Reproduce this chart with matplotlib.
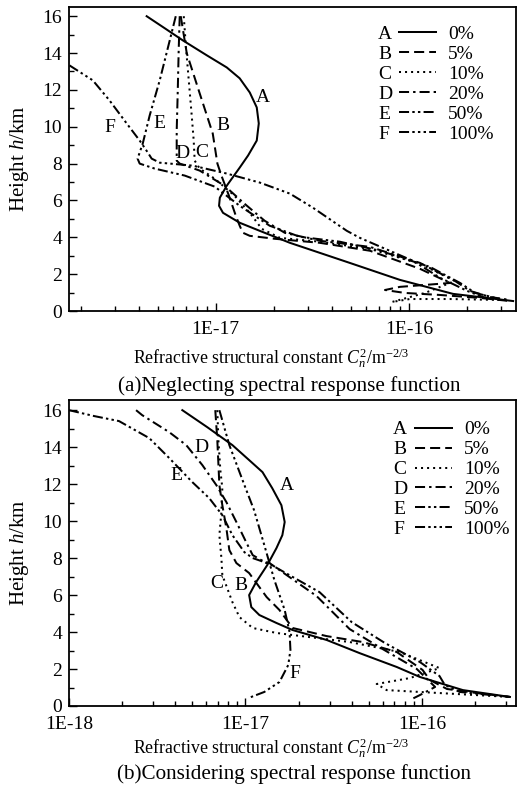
import matplotlib
matplotlib.use('Agg')
import matplotlib.pyplot as plt
from matplotlib.lines import Line2D
from matplotlib.ticker import FixedLocator, NullFormatter, MultipleLocator

plt.rcParams['font.family'] = ['Liberation Serif', 'DejaVu Serif']
plt.rcParams['mathtext.fontset'] = 'custom'
plt.rcParams['mathtext.rm'] = 'Liberation Serif'
plt.rcParams['mathtext.it'] = 'Liberation Serif:italic'

letters = ['A', 'B', 'C', 'D', 'E', 'F']
percents = ['0%', '5%', '10%', '20%', '50%', '100%']

# (a) neglecting spectral response function -- Cn2 [m^-2/3] vs height [km]
top_a_cn2 = [4.39e-18, 5.44e-18, 6.75e-18, 8.98e-18, 1.14e-17, 1.33e-17, 1.50e-17, 1.63e-17, 1.67e-17,
             1.63e-17, 1.47e-17, 1.33e-17, 1.14e-17, 1.05e-17, 1.04e-17, 1.09e-17, 1.33e-17, 1.69e-17,
             2.42e-17, 4.94e-17, 8.97e-17, 1.69e-16, 3.46e-16]
top_a_h = [16.0, 15.35, 14.69, 13.88, 13.22, 12.63, 11.86, 11.05, 10.18, 9.25, 8.44, 7.78, 6.8, 6.15,
           5.71, 5.33, 4.79, 4.35, 3.7, 2.61, 1.69, 0.93, 0.54]
top_b_cn2 = [6.59e-18, 7.08e-18, 8.26e-18, 9.65e-18, 1.02e-17, 1.07e-17, 1.17e-17, 1.27e-17, 1.33e-17,
             1.38e-17, 1.50e-17, 2.02e-17, 3.46e-17, 6.28e-17, 1.14e-16, 1.63e-16, 8.97e-17, 7.51e-17,
             9.53e-17, 1.45e-16, 2.33e-16, 3.33e-16]
top_b_h = [16.0, 13.99, 11.81, 9.63, 8.0, 7.35, 6.26, 5.17, 4.63, 4.25, 4.08, 3.92, 3.7, 3.27, 2.29,
           1.52, 1.31, 1.14, 0.98, 0.87, 0.71, 0.54]
top_c_cn2 = [6.83e-18, 7.0e-18, 7.25e-18, 7.51e-18, 7.69e-18, 7.78e-18, 8.26e-18, 9.88e-18, 1.25e-17,
             1.50e-17, 1.73e-17, 2.15e-17, 3.46e-17, 6.28e-17, 1.14e-16, 1.73e-16, 1.21e-16, 8.17e-17,
             1.01e-16, 1.63e-16, 2.96e-16]
top_c_h = [16.0, 14.42, 12.52, 10.61, 9.25, 8.16, 7.73, 7.18, 6.26, 5.33, 4.46, 3.97, 3.76, 3.37, 2.56,
           1.63, 0.98, 0.49, 0.65, 0.65, 0.6]
top_d_cn2 = [6.51e-18, 6.43e-18, 6.36e-18, 6.28e-18, 6.28e-18, 6.51e-18, 8.26e-18, 1.11e-17, 1.41e-17,
             1.79e-17, 2.28e-17, 3.46e-17, 6.28e-17, 1.14e-16, 1.73e-16, 2.07e-16, 2.63e-16, 3.33e-16]
top_d_h = [16.0, 14.15, 11.97, 9.8, 8.16, 8.0, 7.62, 6.8, 5.82, 4.9, 4.24, 3.81, 3.48, 2.61, 1.63, 1.09,
           0.76, 0.6]
top_e_cn2 = [6.21e-18, 5.78e-18, 5.13e-18, 4.55e-18, 4.19e-18, 3.94e-18, 4.04e-18, 4.83e-18, 6.91e-18,
             9.88e-18, 1.33e-17, 1.90e-17, 2.72e-17, 4.39e-17, 7.08e-17, 1.28e-16, 1.84e-16, 2.20e-16,
             2.96e-16]
top_e_h = [16.0, 14.69, 12.52, 10.61, 9.09, 8.27, 8.0, 7.73, 7.35, 6.75, 5.71, 4.63, 4.03, 3.76, 3.27,
           2.4, 1.52, 0.98, 0.65]
top_f_cn2 = [1.75e-18, 2.31e-18, 2.82e-18, 3.46e-18, 4.04e-18, 4.45e-18, 4.66e-18, 5.13e-18, 7.6e-18,
             1.14e-17, 1.69e-17, 2.42e-17, 3.18e-17, 4.77e-17, 5.57e-17, 1.05e-16, 1.45e-16, 2.0e-16,
             2.48e-16]
top_f_h = [13.33, 12.52, 11.43, 10.18, 9.25, 8.6, 8.27, 8.05, 7.89, 7.46, 6.97, 6.37, 5.61, 4.35, 3.97,
           2.72, 1.8, 1.09, 0.71]
top_label_cn2 = [1.75e-17, 1.09e-17, 8.45e-18, 6.75e-18, 5.13e-18, 2.82e-18]
top_label_h = [11.6, 10.07, 8.6, 8.54, 10.18, 9.96]

# (b) considering spectral response function
bot_a_cn2 = [4.39e-18, 6.08e-18, 8.44e-18, 1.05e-17, 1.25e-17, 1.42e-17, 1.60e-17, 1.67e-17, 1.62e-17,
             1.50e-17, 1.33e-17, 1.15e-17, 1.05e-17, 1.08e-17, 1.20e-17, 1.50e-17, 1.85e-17, 2.89e-17,
             4.44e-17, 7.21e-17, 9.75e-17, 1.71e-16, 3.16e-16]
bot_a_h = [16.0, 15.08, 14.11, 13.3, 12.65, 11.78, 10.86, 9.95, 9.24, 8.54, 7.62, 6.7, 6.0, 5.35, 4.92,
           4.49, 4.11, 3.57, 2.86, 2.11, 1.57, 0.86, 0.49]
bot_b_cn2 = [6.75e-18, 6.93e-18, 7.12e-18, 7.40e-18, 7.80e-18, 8.11e-18, 8.89e-18, 1.05e-17, 1.32e-17,
             1.56e-17, 1.85e-17, 2.89e-17, 4.62e-17, 7.21e-17, 1.01e-16, 1.11e-16, 1.39e-16, 2.05e-16,
             3.16e-16]
bot_b_h = [16.0, 14.38, 11.95, 10.86, 9.62, 8.43, 7.73, 7.19, 5.89, 5.19, 4.22, 3.78, 3.46, 2.92, 1.95,
           1.41, 0.92, 0.7, 0.49]
bot_c_cn2 = [6.93e-18, 7.03e-18, 7.21e-18, 7.40e-18, 7.31e-18, 7.12e-18, 7.31e-18, 7.40e-18, 8.44e-18,
             9.25e-18, 1.10e-17, 1.50e-17, 1.85e-17, 3.90e-17, 7.50e-17, 1.26e-16, 8.55e-17, 5.55e-17,
             6.32e-17, 1.26e-16, 3.16e-16]
bot_c_h = [16.0, 14.38, 12.76, 11.78, 10.49, 9.24, 8.0, 7.08, 5.62, 4.81, 4.22, 3.95, 3.84, 3.46, 2.92,
           2.05, 1.51, 1.19, 0.86, 0.7, 0.49]
bot_d_cn2 = [2.40e-18, 2.60e-18, 3.70e-18, 4.62e-18, 5.70e-18, 6.84e-18, 7.80e-18, 8.89e-18, 1.01e-17,
             1.10e-17, 1.23e-17, 1.37e-17, 2.53e-17, 3.90e-17, 6.0e-17, 9.37e-17, 1.07e-16, 1.19e-16,
             9.75e-17, 8.55e-17]
bot_d_h = [16.0, 15.73, 14.81, 14.11, 13.03, 11.95, 11.03, 9.95, 8.86, 8.16, 7.89, 7.73, 5.95, 4.16,
           3.08, 2.0, 1.46, 1.03, 0.59, 0.32]
bot_e_cn2 = [1.0e-18, 1.39e-18, 1.92e-18, 2.85e-18, 3.70e-18, 5.0e-18, 6.24e-18, 7.40e-18, 8.44e-18,
             9.87e-18, 1.10e-17, 1.23e-17, 1.41e-17, 2.63e-17, 4.0e-17, 6.17e-17, 9.75e-17, 1.26e-16,
             1.35e-16, 1.64e-16, 3.16e-16]
bot_e_h = [16.0, 15.68, 15.41, 14.49, 13.41, 12.11, 11.24, 10.32, 9.24, 8.32, 8.0, 7.84, 7.62, 6.16,
           4.54, 3.41, 2.38, 1.62, 1.14, 0.76, 0.49]
bot_f_cn2 = [7.12e-18, 8.11e-18, 9.87e-18, 1.12e-17, 1.28e-17, 1.46e-17, 1.67e-17, 1.78e-17, 1.80e-17,
             1.75e-17, 1.56e-17, 1.28e-17, 1.04e-17]
bot_f_h = [16.0, 14.11, 11.95, 10.59, 8.7, 6.81, 5.19, 4.0, 3.03, 2.22, 1.3, 0.76, 0.43]
bot_label_cn2 = [1.71e-17, 9.49e-18, 6.84e-18, 5.62e-18, 4.06e-18, 1.90e-17]
bot_label_h = [11.95, 6.54, 6.65, 14.0, 12.49, 1.78]

styles = ['-', (0, (5, 2.5)), (0, (1, 2)), (0, (5, 2, 1.2, 2)),
          (0, (5, 1.6, 1.2, 1.6, 1.2, 1.6)), (0, (5, 1.6, 1.2, 1.6, 1.2, 1.6, 1.2, 1.6))]

fig = plt.figure(figsize=(5.18, 7.9), dpi=100)
ax1 = fig.add_axes([69 / 518, 1 - 311 / 790, 447 / 518, 304 / 790])
ax2 = fig.add_axes([69 / 518, 1 - 706 / 790, 447 / 518, 306 / 790])


def draw_panel(ax, series, label_x, label_y, xlim, ylim, xticks, xticklabels, leg_anchor, colsp):
    lines = []
    for (cx, hy), ls in zip(series, styles):
        ln, = ax.plot(cx, hy, color='black', lw=1.45, linestyle=ls)
        lines.append(ln)
    for t, lx, ly in zip(letters, label_x, label_y):
        ax.text(lx, ly, t, fontsize=14, ha='center', va='center')
    ax.set_xscale('log')
    ax.set_xlim(*xlim)
    ax.set_ylim(*ylim)
    ax.xaxis.set_major_locator(FixedLocator(xticks))
    ax.set_xticklabels(xticklabels)
    minors = [m * 10.0 ** e for e in range(-19, -15) for m in range(2, 10)]
    ax.xaxis.set_minor_locator(FixedLocator(minors))
    ax.xaxis.set_minor_formatter(NullFormatter())
    ax.yaxis.set_major_locator(MultipleLocator(2))
    ax.yaxis.set_minor_locator(MultipleLocator(1))
    ax.tick_params(which='major', direction='in', length=6, width=1, labelsize=14)
    ax.tick_params(which='minor', direction='in', length=3.5, width=1)
    ax.tick_params(axis='x', pad=7)
    ax.tick_params(axis='y', pad=5)
    for sp in ax.spines.values():
        sp.set_linewidth(1.3)
    blanks = [Line2D([], [], color='none') for _ in letters]
    ax.legend(blanks + lines, letters + percents, ncol=2, loc='upper left',
              bbox_to_anchor=leg_anchor, frameon=False, fontsize=14,
              handlelength=1.9, handletextpad=0.62, columnspacing=colsp,
              labelspacing=0.12, borderpad=0, borderaxespad=0)


top_series = [(top_a_cn2, top_a_h), (top_b_cn2, top_b_h), (top_c_cn2, top_c_h),
              (top_d_cn2, top_d_h), (top_e_cn2, top_e_h), (top_f_cn2, top_f_h)]
bot_series = [(bot_a_cn2, bot_a_h), (bot_b_cn2, bot_b_h), (bot_c_cn2, bot_c_h),
              (bot_d_cn2, bot_d_h), (bot_e_cn2, bot_e_h), (bot_f_cn2, bot_f_h)]

draw_panel(ax1, top_series, top_label_cn2, top_label_h, (1.74e-18, 3.58e-16), (0, 16.5),
           [1e-17, 1e-16], ['1E-17', '1E-16'], (0.582, 0.94), 0.36)
draw_panel(ax2, bot_series, bot_label_cn2, bot_label_h, (1.0e-18, 3.42e-16), (0, 16.55),
           [1e-18, 1e-17, 1e-16], ['1E-18', '1E-17', '1E-16'], (0.615, 0.932), 0.42)

xlab = r'Refractive structural constant $C_n^2$/m$^{-2/3}$'
fig.text(133 / 518, 1 - 358 / 790, xlab, fontsize=12.8, ha='left', va='center')
fig.text(118 / 518, 1 - 386 / 790, '(a)Neglecting spectral response function', fontsize=15.2,
         ha='left', va='center')
fig.text(133 / 518, 1 - 748 / 790, xlab, fontsize=12.8, ha='left', va='center')
fig.text(117 / 518, 1 - 774 / 790, '(b)Considering spectral response function', fontsize=15.2,
         ha='left', va='center')
fig.text(20 / 518, 1 - 159 / 790, 'Height $h$/km', fontsize=15, rotation=90, ha='center', va='center')
fig.text(20 / 518, 1 - 553 / 790, 'Height $h$/km', fontsize=15, rotation=90, ha='center', va='center')

fig.savefig('out.png', dpi=100)
